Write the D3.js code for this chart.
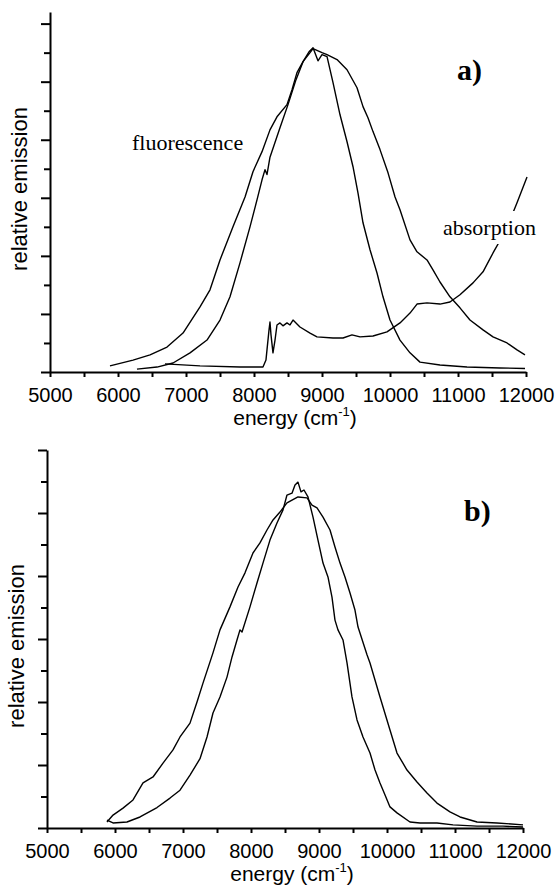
<!DOCTYPE html>
<html lang="en">
<head>
<meta charset="utf-8">
<title>emission spectra</title>
<script src="https://d3js.org/d3.v7.min.js"></script>
<style>
body { margin: 0; background: #fff; }
.curve { fill: none; stroke: #000; stroke-width: 1.4px; stroke-linejoin: round; }
.axis path, .axis line { stroke: #000; stroke-width: 2px; }
.axis text { font-family: "Liberation Sans", Arial, sans-serif; font-size: 20px; fill: #000; }
.title { font-family: "Liberation Sans", Arial, sans-serif; font-size: 21px; fill: #000; }
.note { font-family: "Liberation Serif", "Times New Roman", serif; font-size: 22px; fill: #000; }
.panel { font-family: "Liberation Serif", "Times New Roman", serif; font-size: 30px; font-weight: bold; fill: #000; }
</style>
</head>
<body>
<script>
// energy axis ticks (cm-1)
const energyTicks = [5000, 6000, 7000, 8000, 9000, 10000, 11000, 12000]
const energyMinor = [5500, 6500, 7500, 8500, 9500, 10500, 11500]
// emission axis ticks (arbitrary units, unlabeled)
const emisMajor = [0, 2, 4, 6, 8, 10, 12]
const emisMinor = [1, 3, 5, 7, 9, 11]

// panel a) -- [energy, emission]
const fluorBroadA = [[5882,0.21],[6221,0.41],[6471,0.59],[6721,0.86],[6956,1.34],[7206,2.24],[7353,2.83],[7500,3.86],
  [7691,5.0],[7868,6.03],[7985,6.9],[8118,7.59],[8235,8.34],[8338,8.79],[8485,9.21],[8559,9.72],[8632,10.31],
  [8721,10.69],[8824,11.0],[8868,11.14],[9000,11.0],[9074,10.93],[9221,10.76],[9368,10.41],[9515,9.79],[9603,9.14],
  [9676,8.76],[9750,8.28],[9853,7.66],[9971,6.86],[10074,6.03],[10147,5.59],[10294,4.55],[10397,4.14],[10544,3.86],
  [10632,3.52],[10735,3.1],[10882,2.59],[11029,2.21],[11176,1.79],[11368,1.45],[11515,1.21],[11721,1.0],[11868,0.76],[11985,0.59]]
const fluorNarrowA = [[6279,0.1],[6574,0.17],[6809,0.31],[7059,0.66],[7309,1.1],[7500,1.79],[7647,2.59],[7794,3.76],
  [7941,5.0],[8044,5.93],[8118,6.62],[8162,6.97],[8191,6.8],[8235,7.4],[8382,8.41],[8500,9.21],[8618,10.07],[8721,10.69],
  [8809,11.03],[8868,11.17],[8941,10.72],[9000,10.93],[9074,10.86],[9162,9.97],[9265,8.86],[9368,7.93],[9456,7.07],
  [9529,6.17],[9603,5.14],[9706,4.21],[9809,3.41],[9897,2.59],[10000,1.79],[10147,1.1],[10294,0.66],[10441,0.34],
  [10735,0.24],[11132,0.17],[11618,0.14],[11985,0.12]]
const absorptionA = [[6691,0.28],[7206,0.21],[7794,0.17],[8132,0.17],[8176,0.41],[8191,0.76],[8221,1.45],[8235,1.72],
  [8250,1.28],[8279,0.66],[8309,1.1],[8338,1.62],[8382,1.69],[8426,1.59],[8485,1.69],[8529,1.62],[8574,1.79],[8676,1.55],
  [8824,1.34],[8926,1.21],[9162,1.17],[9309,1.17],[9441,1.28],[9559,1.21],[9750,1.24],[9956,1.38],[10147,1.69],
  [10294,2.03],[10397,2.34],[10544,2.38],[10735,2.34],[10882,2.41],[11029,2.66],[11221,3.07],[11368,3.45],[11515,4.1],
  [11691,4.83],[11779,5.31],[11868,5.83],[12015,6.72]]

// panel b)
const fluorBroadB = [[5882,0.19],[5971,0.41],[6118,0.63],[6265,0.89],[6412,1.43],[6559,1.62],[6706,2.06],[6853,2.48],
  [6956,2.89],[7103,3.33],[7206,4.0],[7294,4.6],[7441,5.56],[7544,6.29],[7691,7.02],[7809,7.65],[7912,8.1],[8029,8.73],
  [8132,9.05],[8235,9.46],[8324,9.78],[8426,10.03],[8529,10.32],[8603,10.41],[8691,10.51],[8824,10.48],[8897,10.25],
  [8971,10.16],[9059,9.87],[9162,9.46],[9235,8.92],[9309,8.41],[9382,7.97],[9456,7.46],[9529,6.92],[9574,6.38],
  [9706,5.5],[9750,5.24],[9897,4.16],[10044,3.11],[10147,2.38],[10294,1.84],[10441,1.46],[10588,1.11],[10735,0.79],
  [10926,0.51],[11074,0.35],[11324,0.19],[11618,0.16],[12000,0.1]]
const fluorNarrowB = [[5882,0.25],[5971,0.16],[6176,0.19],[6368,0.35],[6618,0.65],[6809,0.95],[6956,1.2],[7103,1.68],
  [7250,2.2],[7353,2.89],[7441,3.65],[7544,4.16],[7647,4.79],[7721,5.43],[7794,5.97],[7838,6.29],[7868,6.22],[7985,7.02],
  [8088,7.78],[8176,8.41],[8279,9.14],[8382,9.68],[8471,10.1],[8529,10.57],[8603,10.63],[8647,10.89],[8691,10.98],
  [8735,10.67],[8779,10.73],[8838,10.51],[8912,9.87],[8985,9.14],[9059,8.41],[9132,7.97],[9191,7.33],[9235,6.6],
  [9279,6.29],[9353,5.97],[9412,5.24],[9485,4.16],[9559,3.43],[9647,2.89],[9750,2.38],[9824,1.84],[9897,1.43],
  [9971,1.05],[10044,0.67],[10147,0.48],[10338,0.19],[10485,0.16],[10735,0.16],[10971,0.1],[11324,0.06],[11706,0.06],[12000,0.03]]

const width = 556
const height = 886

const svg = d3.select("body").append("svg")
    .attr("width", width)
    .attr("height", height)

function drawPanel(p) {
    const x = d3.scaleLinear().domain([5000, 12000]).range([p.left, p.right])
    const y = d3.scaleLinear().domain([0, p.yMax]).range([p.bottom, p.top])
    const g = svg.append("g")

    // x axis with minor ticks, labels only on the thousands
    g.append("g").attr("class", "axis")
        .attr("transform", `translate(0,${p.bottom})`)
        .call(d3.axisBottom(x)
            .tickValues(energyTicks.concat(energyMinor))
            .tickSize(5).tickSizeOuter(0).tickPadding(11)
            .tickFormat(d => energyTicks.includes(d) ? String(d) : ""))

    // y axis: long ticks, then short ones
    g.append("g").attr("class", "axis")
        .attr("transform", `translate(${p.left},0)`)
        .call(d3.axisLeft(y).tickValues(emisMajor).tickSize(9).tickSizeOuter(0).tickFormat(""))
    g.append("g").attr("class", "axis")
        .attr("transform", `translate(${p.left},0)`)
        .call(d3.axisLeft(y).tickValues(emisMinor).tickSize(6).tickFormat(""))
        .call(a => a.select(".domain").remove())

    const line = d3.line().x(d => x(d[0])).y(d => y(d[1]))
    p.series.forEach(s => {
        g.append("path").datum(s).attr("class", "curve").attr("d", line)
    })

    // axis titles
    const xt = g.append("text").attr("class", "title")
        .attr("x", p.xTitle[0]).attr("y", p.xTitle[1])
        .attr("text-anchor", "middle")
    xt.append("tspan").text("energy (cm")
    xt.append("tspan").attr("font-size", "13px").attr("dy", -9).text("-1")
    xt.append("tspan").attr("dy", 9).text(")")

    g.append("text").attr("class", "title")
        .attr("transform", `translate(${p.yTitle[0]},${p.yTitle[1]}) rotate(-90)`)
        .attr("text-anchor", "middle")
        .style("font-size", "22px")
        .text("relative emission")

    g.append("text").attr("class", "panel")
        .attr("x", p.tag[0]).attr("y", p.tag[1])
        .text(p.tagText)

    return g
}

const ga = drawPanel({
    left: 50, right: 526, bottom: 372, top: 12, yMax: 12.4,
    series: [fluorBroadA, fluorNarrowA, absorptionA],
    xTitle: [295, 425], yTitle: [27, 189],
    tag: [457, 80], tagText: "a)"
})

ga.append("text").attr("class", "note")
    .attr("x", 132).attr("y", 150)
    .text("fluorescence")

// absorption label sits on a white patch that interrupts its curve
const absLabel = ga.append("text").attr("class", "note")
    .attr("x", 443).attr("y", 235)
    .text("absorption")
const bb = absLabel.node().getBBox()
ga.insert("rect", "text.note")
    .attr("x", bb.x - 2).attr("y", bb.y - 4)
    .attr("width", bb.width + 4).attr("height", bb.height + 8)
    .attr("fill", "#fff")

drawPanel({
    left: 47, right: 523, bottom: 828, top: 450, yMax: 12,
    series: [fluorBroadB, fluorNarrowB],
    xTitle: [292, 881], yTitle: [24, 646],
    tag: [464, 521], tagText: "b)"
})
</script>
</body>
</html>
